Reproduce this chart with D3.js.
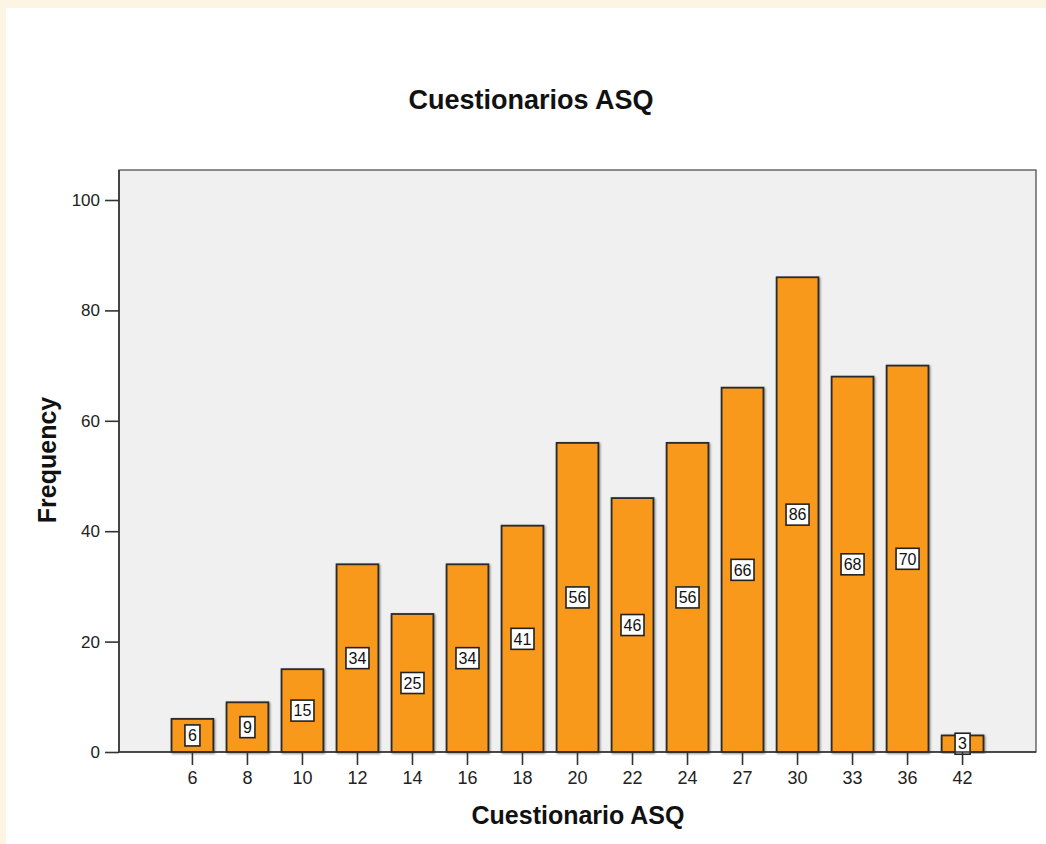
<!DOCTYPE html>
<html>
<head>
<meta charset="utf-8">
<script src="https://cdn.jsdelivr.net/npm/d3@7/dist/d3.min.js"></script>
<style>
  html, body { margin: 0; padding: 0; background: #fdf5e3; }
  svg { display: block; font-family: "Liberation Sans", Arial, sans-serif; }
</style>
</head>
<body>
<svg id="chart" width="1046" height="844"></svg>
<script>
// chart data
var categories = ['6', '8', '10', '12', '14', '16', '18', '20', '22', '24', '27', '30', '33', '36', '42'];
var frequencies = [6, 9, 15, 34, 25, 34, 41, 56, 46, 56, 66, 86, 68, 70, 3];
var yTicks = [0, 20, 40, 60, 80, 100];

var svg = d3.select('#chart');
var plot = { left: 119, right: 1036, top: 170, bottom: 752 };

// white panel over the cream page
svg.append('rect').attr('x', 6).attr('y', 8).attr('width', 1040).attr('height', 836).attr('fill', '#ffffff');

var defs = svg.append('defs');
var shadow = defs.append('filter').attr('id', 'barShadow').attr('x', '-10%').attr('y', '-10%').attr('width', '120%').attr('height', '120%');
shadow.append('feGaussianBlur').attr('in', 'SourceAlpha').attr('stdDeviation', 1.2).attr('result', 'blur');
shadow.append('feOffset').attr('in', 'blur').attr('dx', 0.5).attr('dy', 0.5).attr('result', 'off');
shadow.append('feComponentTransfer').attr('in', 'off').attr('result', 'soft')
  .append('feFuncA').attr('type', 'linear').attr('slope', 0.45);
var merge = shadow.append('feMerge');
merge.append('feMergeNode').attr('in', 'soft');
merge.append('feMergeNode').attr('in', 'SourceGraphic');

var x = d3.scaleBand().domain(categories).range([plot.left, plot.right]).paddingInner(0.24).paddingOuter(0.955);
var y = d3.scaleLinear().domain([0, (plot.bottom - plot.top) / 5.52]).range([plot.bottom, plot.top]);

// plot background
svg.append('rect')
  .attr('x', plot.left).attr('y', plot.top)
  .attr('width', plot.right - plot.left).attr('height', plot.bottom - plot.top)
  .attr('fill', '#f0f0f0').attr('stroke', '#444').attr('stroke-width', 1.2);

// bars
var data = categories.map(function(c, i){ return { cat: c, value: frequencies[i] }; });
svg.append('g').selectAll('rect').data(data).join('rect')
  .attr('x', function(d){ return x(d.cat); })
  .attr('y', function(d){ return y(d.value); })
  .attr('width', x.bandwidth())
  .attr('height', function(d){ return y(0) - y(d.value); })
  .attr('fill', '#f8991d')
  .attr('stroke', '#2a2a2a')
  .attr('stroke-width', 1.8)
  .attr('filter', 'url(#barShadow)');

// value labels in white boxes at half height
var labels = svg.append('g').selectAll('g').data(data).join('g')
  .attr('transform', function(d){ return 'translate(' + (x(d.cat) + x.bandwidth() / 2) + ',' + y(d.value / 2) + ')'; });
labels.append('rect')
  .attr('x', function(d){ return String(d.value).length > 1 ? -11.5 : -7.5; })
  .attr('y', -10.5)
  .attr('width', function(d){ return String(d.value).length > 1 ? 23 : 15; })
  .attr('height', 21)
  .attr('fill', '#ffffff').attr('stroke', '#222').attr('stroke-width', 1.6);
labels.append('text')
  .attr('text-anchor', 'middle').attr('dy', '0.36em')
  .attr('font-size', 16).attr('fill', '#111')
  .text(function(d){ return d.value; });

// y axis
var yAxis = svg.append('g').attr('transform', 'translate(' + plot.left + ',0)')
  .call(d3.axisLeft(y).tickValues(yTicks).tickSize(14).tickPadding(5));
yAxis.select('.domain').remove();
yAxis.selectAll('line').attr('stroke', '#333').attr('stroke-width', 1.6);
yAxis.selectAll('text').attr('font-size', 17).attr('fill', '#222').attr('font-family', '"Liberation Sans", Arial, sans-serif');

// x axis
var xAxis = svg.append('g').attr('transform', 'translate(0,' + plot.bottom + ')')
  .call(d3.axisBottom(x).tickSize(13).tickPadding(6));
xAxis.select('.domain').remove();
xAxis.selectAll('line').attr('stroke', '#333').attr('stroke-width', 1.6);
xAxis.selectAll('text').attr('font-size', 18).attr('fill', '#222').attr('font-family', '"Liberation Sans", Arial, sans-serif');

// axis lines drawn over the bars
svg.append('line').attr('x1', plot.left).attr('x2', plot.right).attr('y1', plot.bottom).attr('y2', plot.bottom)
  .attr('stroke', '#333').attr('stroke-width', 1.6);
svg.append('line').attr('x1', plot.left).attr('x2', plot.left).attr('y1', plot.top).attr('y2', plot.bottom)
  .attr('stroke', '#333').attr('stroke-width', 1.6);

// titles
svg.append('text').attr('x', 531).attr('y', 109).attr('text-anchor', 'middle')
  .attr('font-size', 27).attr('font-weight', 'bold').attr('fill', '#111')
  .text('Cuestionarios ASQ');
svg.append('text').attr('x', 578).attr('y', 824).attr('text-anchor', 'middle')
  .attr('font-size', 25).attr('font-weight', 'bold').attr('fill', '#111')
  .text('Cuestionario ASQ');
svg.append('text').attr('transform', 'translate(56,460) rotate(-90)').attr('text-anchor', 'middle')
  .attr('font-size', 25).attr('font-weight', 'bold').attr('fill', '#111')
  .text('Frequency');
</script>
</body>
</html>
